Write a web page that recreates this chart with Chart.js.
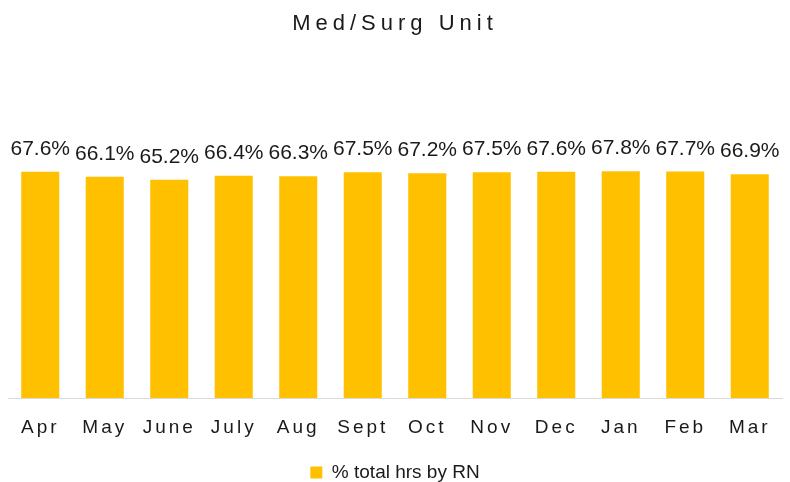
<!DOCTYPE html>
<html>
<head>
<meta charset="utf-8">
<script src="https://cdn.jsdelivr.net/npm/chart.js@4"></script>
<style>
  html, body { margin: 0; padding: 0; background: #fff; }
  #wrap { width: 790px; height: 482px; }
</style>
</head>
<body>
<div id="wrap"><canvas id="myChart" width="790" height="482"></canvas></div>
<script>
// dados do grafico
const months = ['Apr', 'May', 'June', 'July', 'Aug', 'Sept', 'Oct', 'Nov', 'Dec', 'Jan', 'Feb', 'Mar'];
const rnShare = [67.6, 66.1, 65.2, 66.4, 66.3, 67.5, 67.2, 67.5, 67.6, 67.8, 67.7, 66.9];
const seriesName = '% total hrs by RN';

const FONT = "'Liberation Sans', Arial, sans-serif";

// rotulos em cima das barras
const barLabels = {
    id: 'barLabels',
    afterDatasetsDraw(chart) {
        const ctx = chart.ctx;
        const meta = chart.getDatasetMeta(0);
        ctx.save();
        ctx.letterSpacing = '0px';
        ctx.font = '21px ' + FONT;
        ctx.fillStyle = '#1a1a1a';
        ctx.textAlign = 'center';
        ctx.textBaseline = 'bottom';
        meta.data.forEach(function (bar, i) {
            ctx.fillText(rnShare[i].toFixed(1) + '%', bar.x, bar.y - 12);
        });
        ctx.restore();
    }
};

function spaced(box, px) {
    const orig = box.draw;
    box.draw = function (a) {
        const ctx = this.ctx;
        ctx.save();
        ctx.letterSpacing = px;
        orig.call(this, a);
        ctx.restore();
    };
}

const grafico = document.getElementById('myChart');
const chart = new Chart(grafico, {
    type: 'bar',
    data: {
        labels: months,
        datasets: [{
            label: seriesName,
            data: rnShare,
            backgroundColor: '#FFC000',
            borderWidth: 0,
            barPercentage: 0.59,
            categoryPercentage: 1
        }]
    },
    options: {
        responsive: false,
        animation: false,
        layout: { padding: { left: 8, right: 8, top: 0, bottom: -10 } },
        scales: {
            x: {
                grid: { display: false },
                border: { display: true, color: '#d9d9d9', width: 1 },
                ticks: {
                    color: '#1a1a1a',
                    font: { family: FONT, size: 19 },
                    padding: 10,
                    maxRotation: 0
                },
                afterFit(scale) { scale.height = 65; }
            },
            y: {
                display: false,
                min: 0,
                max: 100
            }
        },
        plugins: {
            title: {
                display: true,
                text: 'Med/Surg Unit',
                color: '#1a1a1a',
                font: { family: FONT, size: 22, weight: 'normal' },
                padding: { top: 11, bottom: 26 }
            },
            legend: {
                position: 'bottom',
                labels: {
                    color: '#1a1a1a',
                    font: { family: FONT, size: 19 },
                    boxWidth: 12,
                    boxHeight: 12,
                    padding: 0
                }
            },
            tooltip: { enabled: false }
        }
    },
    plugins: [barLabels]
});

spaced(chart.titleBlock, '5px');
spaced(chart.scales.x, '3px');
chart.update('none');
</script>
</body>
</html>
